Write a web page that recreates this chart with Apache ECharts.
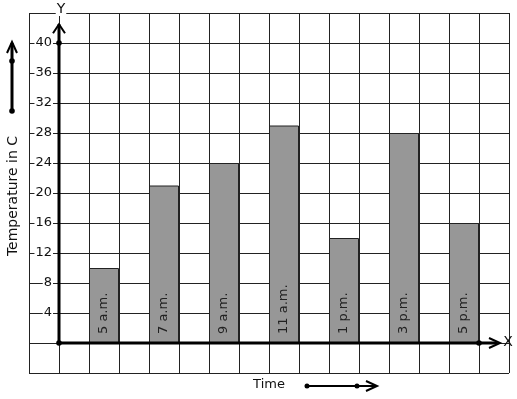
<!DOCTYPE html>
<html><head><meta charset="utf-8">
<script src="https://cdn.jsdelivr.net/npm/echarts@6/dist/echarts.min.js"></script>
<style>html,body{margin:0;padding:0;background:#fff}#c{width:517px;height:399px}</style>
</head><body><div id="c"></div>
<script>
const categories = ['5 a.m.', '7 a.m.', '9 a.m.', '11 a.m.', '1 p.m.', '3 p.m.', '5 p.m.'];
const temperatures = [10, 21, 24, 29, 14, 28, 16];
const yTickLabels = [4, 8, 12, 16, 20, 24, 28, 32, 36, 40];
const yTitle = 'Temperature in C';
const xTitle = 'Time';

const FONT = 'DejaVu Sans';
const chart = echarts.init(document.getElementById('c'), null, {renderer: 'canvas'});
const barData = temperatures.map((v, i) => ({value: [1.5 + 2 * i, v], name: categories[i]}));

chart.setOption({
  animation: false,
  backgroundColor: '#fff',
  grid: {left: 29, top: 13, width: 480, height: 360, containLabel: false},
  xAxis: {
    type: 'value', min: -1, max: 15, interval: 1,
    axisLine: {show: false}, axisTick: {show: false}, axisLabel: {show: false},
    splitLine: {show: true, lineStyle: {color: '#222', width: 1}}
  },
  yAxis: {
    type: 'value', min: -4, max: 44, interval: 4, offset: -30,
    axisLine: {show: false}, axisTick: {show: false},
    axisLabel: {
      margin: 6, fontFamily: FONT, fontSize: 13, color: '#111',
      backgroundColor: '#fff', padding: [0, 1],
      formatter: v => yTickLabels.includes(v) ? String(v) : ''
    },
    splitLine: {show: true, lineStyle: {color: '#222', width: 1}}
  },
  series: [{
    type: 'bar', barWidth: 30, data: barData,
    itemStyle: {color: '#979797', borderColor: '#222', borderWidth: 1},
    label: {
      show: true, position: 'insideBottom', rotate: 90, align: 'left', verticalAlign: 'middle',
      distance: 9, fontFamily: FONT, fontSize: 13, color: '#222',
      formatter: p => p.name
    },
    z: 3
  }]
});

const P = (x, y) => chart.convertToPixel({gridIndex: 0}, [x, y]);
const o = P(0, 0);
const y40 = P(0, 40);
const yTop = P(0, 42.5);
const xEnd = P(14.6, 0);
const xDot = P(14, 0);
const blk = {stroke: '#000', lineWidth: 3};
const g = [];
g.push({type: 'line', shape: {x1: o[0], y1: o[1], x2: yTop[0], y2: yTop[1]}, style: blk, z: 10});
g.push({type: 'polyline', shape: {points: [[o[0] - 6, yTop[1] + 9], [o[0], yTop[1]], [o[0] + 6, yTop[1] + 9]]}, style: {stroke: '#000', lineWidth: 2, fill: null}, z: 10});
g.push({type: 'line', shape: {x1: o[0], y1: o[1], x2: xEnd[0], y2: xEnd[1]}, style: blk, z: 10});
g.push({type: 'polyline', shape: {points: [[xEnd[0] - 8, o[1] - 5], [xEnd[0] + 3, o[1]], [xEnd[0] - 8, o[1] + 5]]}, style: {stroke: '#000', lineWidth: 2, fill: null}, z: 10});
[o, y40, xDot].forEach(p => g.push({type: 'circle', shape: {cx: p[0], cy: p[1], r: 2.8}, style: {fill: '#000'}, z: 11}));
g.push({type: 'text', style: {text: 'Y', x: o[0] + 2, y: 9, align: 'center', verticalAlign: 'middle', font: '14px ' + FONT, fill: '#111', backgroundColor: '#fff', padding: [0, 1]}, z: 12});
g.push({type: 'text', style: {text: 'X', x: xEnd[0] + 11, y: o[1] - 1, align: 'center', verticalAlign: 'middle', font: '14px ' + FONT, fill: '#111'}, z: 12});
// left arrow decoration
g.push({type: 'line', shape: {x1: 12, y1: 111, x2: 12, y2: 43}, style: blk, z: 10});
g.push({type: 'polyline', shape: {points: [[7, 53], [12, 42], [17, 53]]}, style: {stroke: '#000', lineWidth: 2, fill: null}, z: 10});
[61, 111].forEach(y => g.push({type: 'circle', shape: {cx: 12, cy: y, r: 2.8}, style: {fill: '#000'}, z: 11}));
g.push({type: 'text', rotation: Math.PI / 2, x: 13, y: 196, style: {text: yTitle, x: 0, y: 0, align: 'center', verticalAlign: 'middle', font: '14px ' + FONT, fill: '#111'}, z: 12});
// bottom arrow decoration
g.push({type: 'text', style: {text: xTitle, x: 269, y: 385, align: 'center', verticalAlign: 'middle', font: '13px ' + FONT, fill: '#111'}, z: 12});
g.push({type: 'line', shape: {x1: 307, y1: 386, x2: 375, y2: 386}, style: {stroke: '#000', lineWidth: 2}, z: 10});
g.push({type: 'polyline', shape: {points: [[366, 381], [377, 386], [366, 391]]}, style: {stroke: '#000', lineWidth: 2, fill: null}, z: 10});
[307, 357].forEach(x => g.push({type: 'circle', shape: {cx: x, cy: 386, r: 2.5}, style: {fill: '#000'}, z: 11}));
chart.setOption({graphic: g});
</script></body></html>
